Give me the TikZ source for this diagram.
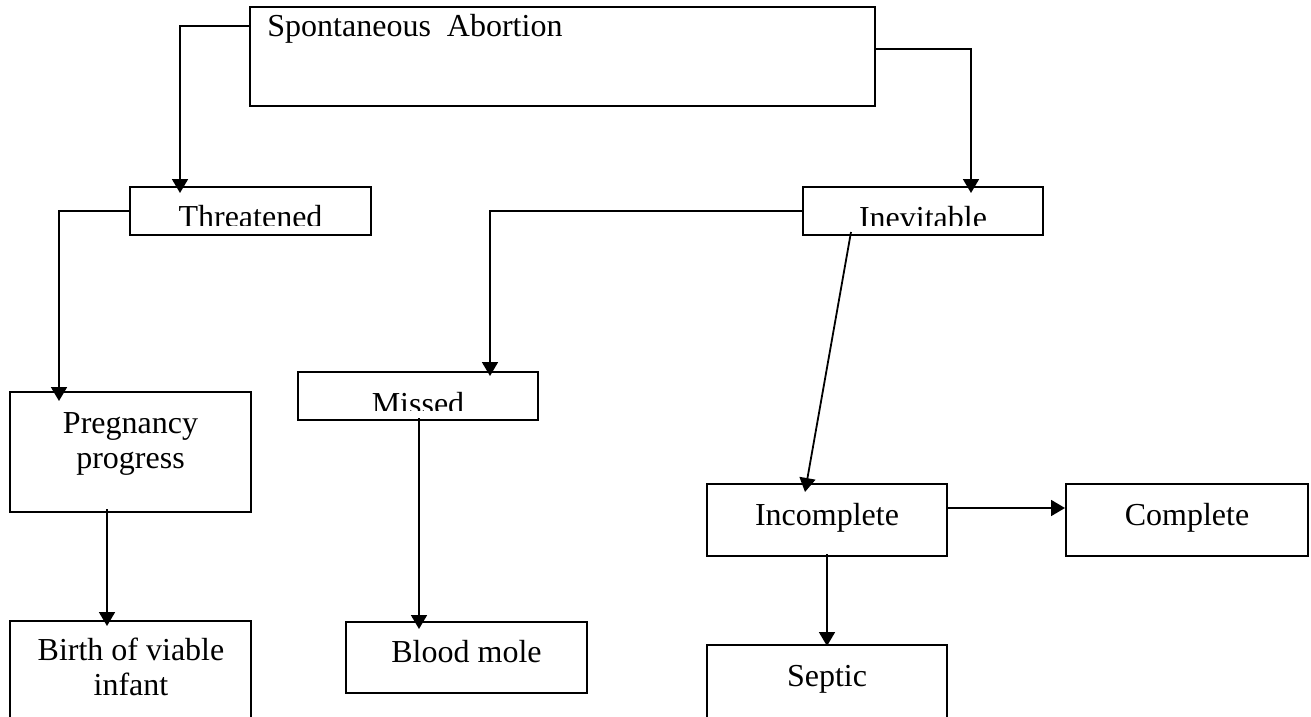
\documentclass[tikz,border=0pt]{standalone}
\usepackage{fontspec}
\setmainfont{Liberation Serif}
\usetikzlibrary{arrows.meta}

\begin{document}
\begin{tikzpicture}[x=0.5pt,y=0.5pt,yscale=-1,xscale=1,
        box/.style={draw,line width=1pt,inner sep=0pt},
        lbl/.style={inner sep=0pt,font=\fontsize{16}{17.5}\selectfont},
        arr/.style={line width=0.9pt,-{Triangle[width=8pt,length=7pt]}}]
        \useasboundingbox (0,0) rectangle (1311,717);

        %Shape: Rectangle [top]
        \node [box,minimum width=312.5pt,minimum height=49.5pt] (sa) at (562.5,56.5) {};
        %Shape: Rectangle [second row]
        \node [box,minimum width=120.5pt,minimum height=24pt] (thr) at (250.5,211) {};
        \node [box,minimum width=120pt,minimum height=24pt] (inev) at (923,211) {};
        %Shape: Rectangle [third row]
        \node [box,minimum width=120.5pt,minimum height=60pt] (preg) at (130.5,452) {};
        \node [box,minimum width=120pt,minimum height=24pt] (missed) at (418,396) {};
        \node [box,minimum width=120pt,minimum height=36pt] (incomp) at (827,520) {};
        \node [box,minimum width=121pt,minimum height=36pt] (compl) at (1187,520) {};
        %Shape: Rectangle [bottom row]
        \node [box,minimum width=120.5pt,minimum height=57pt] (birth) at (130.5,678) {};
        \node [box,minimum width=120.5pt,minimum height=35.5pt] (blood) at (466.5,657.5) {};
        \node [box,minimum width=120pt,minimum height=45pt] (septic) at (827,690) {};

        %Straight Lines [connectors]
        \draw [arr,shorten >=-3.5pt] ([yshift=10pt]sa.north west) -| ([xshift=-35.25pt]thr.north);
        \draw [arr,shorten >=-3.5pt] ([yshift=21.5pt]sa.north east) -| ([xshift=24pt]inev.north);
        \draw [arr,shorten >=-5pt] (thr.west) -| ([xshift=-35.75pt]preg.north);
        \draw [arr,shorten >=-2.5pt] (inev.west) -| ([xshift=36pt]missed.north);
        \draw [arr,shorten <=-2pt,shorten >=-3pt] ([xshift=-11.75pt]preg.south) -- ([xshift=-11.75pt]birth.north);
        \draw [arr,shorten <=-1.5pt,shorten >=-4pt] ([xshift=0.5pt]missed.south) -- ([xshift=-23.75pt]blood.north);
        \draw [arr] ([xshift=-36pt,yshift=-2pt]inev.south) -- ([xshift=-11pt,yshift=4.5pt]incomp.north);
        \draw [arr] ([yshift=-6pt]incomp.east) -- ([yshift=-6pt]compl.west);
        \draw [arr,shorten <=-1.5pt,shorten >=-1pt] (incomp.south) -- (septic.north);

        % Text Node
        \node [lbl,anchor=base west] (sa-t) at (267,37) {Spontaneous\ \ Abortion};
        % Text Node
        \begin{scope}
        \clip (0,0) rectangle (1311,225);
        \node [lbl,anchor=base] (thr-t) at (250.5,227) {Threatened};
        \node [lbl,anchor=base] (inev-t) at (923,228) {Inevitable};
        \end{scope}
        % Text Node
        \begin{scope}
        \clip (0,0) rectangle (1311,410);
        \node [lbl,anchor=base] (missed-t) at (418,414) {Missed};
        \end{scope}
        % Text Node
        \node [lbl,anchor=base,align=center] (preg-t) at (130.5,468) {Pregnancy\\progress};
        % Text Node
        \node [lbl,anchor=base,align=center] (birth-t) at (131,695) {Birth of viable\\infant};
        % Text Node
        \node [lbl,anchor=base] (blood-t) at (466.5,662) {Blood mole};
        % Text Node
        \node [lbl,anchor=base] (incomp-t) at (827,525) {Incomplete};
        % Text Node
        \node [lbl,anchor=base] (compl-t) at (1187,525) {Complete};
        % Text Node
        \node [lbl,anchor=base] (septic-t) at (827,686) {Septic};

\end{tikzpicture}
\end{document}
